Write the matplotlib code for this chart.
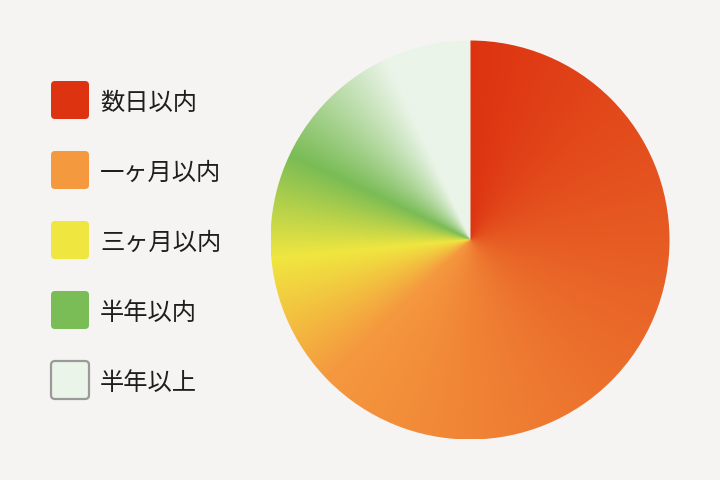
import matplotlib.pyplot as plt
import numpy as np
from matplotlib.colors import to_rgb
from matplotlib.patches import Circle, FancyBboxPatch

plt.rcParams["font.family"] = ["Noto Sans CJK JP", "DejaVu Sans"]

# legend / categories
labels = ["数日以内", "一ヶ月以内", "三ヶ月以内", "半年以内", "半年以上"]
colors = ["#DD3311", "#F5993F", "#F0E640", "#7ABC55", "#EAF4E8"]
# where each colour sits in the conic gradient (fraction of a full turn, clockwise from 12 o'clock)
stops = [0.0, 0.63, 0.735, 0.82, 0.93]

BG = "#F5F4F2"


def conic_image(cx, cy, r, n=900):
    xs = np.linspace(cx - r, cx + r, n)
    ys = np.linspace(cy - r, cy + r, n)
    X, Y = np.meshgrid(xs, ys)
    theta = np.mod(np.arctan2(X - cx, -(Y - cy)), 2 * np.pi) / (2 * np.pi)
    pos = stops + [1.0]
    rgb = [to_rgb(c) for c in colors] + [to_rgb(colors[-1])]
    img = np.zeros((n, n, 3))
    for ch in range(3):
        img[..., ch] = np.interp(theta, pos, [c[ch] for c in rgb])
    return img


fig = plt.figure(figsize=(7.2, 4.8), dpi=100, facecolor=BG)
ax = fig.add_axes([0, 0, 1, 1])
ax.set_xlim(0, 720)
ax.set_ylim(480, 0)
ax.axis("off")
ax.set_facecolor(BG)

cx, cy, r = 470, 240, 199.5
img = conic_image(cx, cy, r)
im = ax.imshow(img, extent=(cx - r, cx + r, cy + r, cy - r), origin="upper", interpolation="bilinear", zorder=1)
clip = Circle((cx, cy), r, transform=ax.transData)
im.set_clip_path(clip)

# legend
for i, (lab, col) in enumerate(zip(labels, colors)):
    yc = 100 + i * 70
    last = i == len(labels) - 1
    box = FancyBboxPatch((51, yc - 19), 38, 38, boxstyle="round,pad=0,rounding_size=4",
                         facecolor=col, edgecolor="#9A9A9A" if last else col,
                         linewidth=1.6 if last else 0, zorder=3)
    ax.add_patch(box)
    ax.text(100, yc + 3, lab, fontsize=17.5, color="#1E1E1E", va="center", ha="left", zorder=3)

fig.savefig("out.png", dpi=100, facecolor=BG)
